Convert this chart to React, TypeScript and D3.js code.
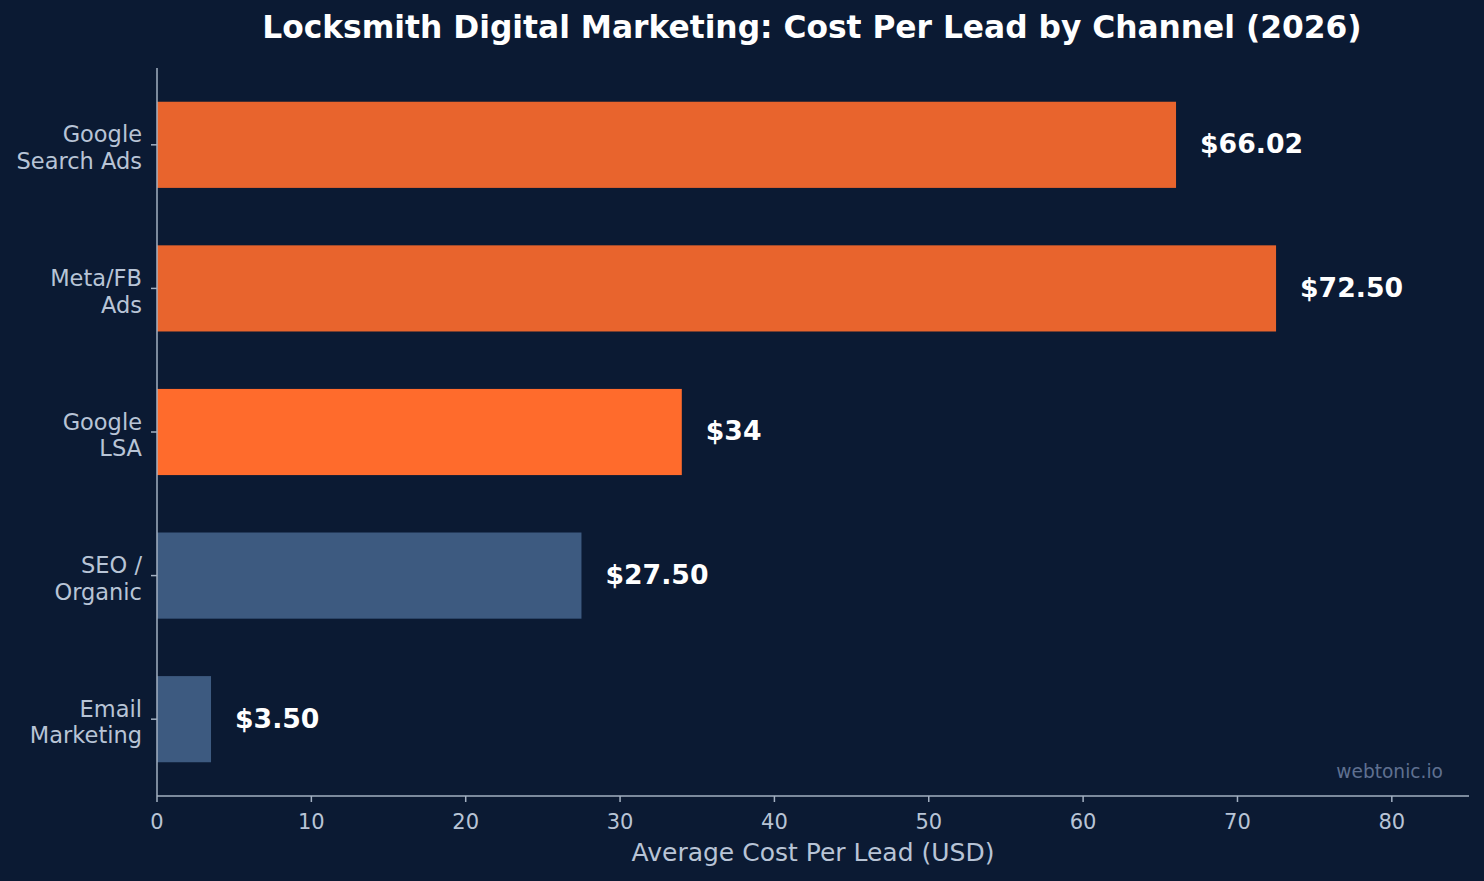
import React from "react";
import * as d3 from "d3";

const channels = ["Google\nSearch Ads", "Meta/FB\nAds", "Google\nLSA", "SEO /\nOrganic", "Email\nMarketing"];
const costs = [66.02, 72.5, 34, 27.5, 3.5];
const valueLabels = ["$66.02", "$72.50", "$34", "$27.50", "$3.50"];
const barColors = ["#e8642d", "#e8642d", "#ff6b2c", "#3d5a80", "#3d5a80"];
const xTicks = [0, 10, 20, 30, 40, 50, 60, 70, 80];

const W = 1484;
const H = 881;
const BG = "#0b1a33";
const AXIS = "#a3b0c2";
const TEXT = "#b8c4d6";
const FONT = "'DejaVu Sans', sans-serif";

const App: React.FC = () => {
  const left = 157;
  const right = 1469;
  const top = 68;
  const bottom = 796;

  const x = d3.scaleLinear().domain([0, 85]).range([left, right]);
  // bars sit at integer positions, matplotlib-ish margins
  const y = d3.scaleLinear().domain([-0.535, 4.535]).range([top, bottom]);
  const barH = y(0.6) - y(0);

  return (
    <svg width={W} height={H} style={{ position: "absolute", left: 0, top: 0, background: BG }}>
      <rect x={0} y={0} width={W} height={H} fill={BG} />
      <text x={812} y={38} textAnchor="middle" fill="#ffffff" fontFamily={FONT} fontWeight="bold" fontSize={31.3}>
        Locksmith Digital Marketing: Cost Per Lead by Channel (2026)
      </text>

      {costs.map((v, i) => (
        <g key={i}>
          <rect x={x(0)} y={y(i) - barH / 2} width={x(v) - x(0)} height={barH} fill={barColors[i]} />
          <text
            x={x(v) + 24}
            y={y(i) - 1}
            dy="0.35em"
            fill="#ffffff"
            fontFamily={FONT}
            fontWeight="bold"
            fontSize={26.7}
          >
            {valueLabels[i]}
          </text>
        </g>
      ))}

      {/* y axis */}
      <line x1={left} x2={left} y1={top} y2={bottom} stroke={AXIS} strokeWidth={1.5} />
      {channels.map((c, i) => {
        const lines = c.split("\n");
        return (
          <g key={c}>
            <line x1={left - 6} x2={left} y1={y(i)} y2={y(i)} stroke={AXIS} strokeWidth={1.5} />
            {lines.map((ln, j) => (
              <text
                key={j}
                x={left - 15}
                y={y(i) + 3 + (j - (lines.length - 1) / 2) * 26.5}
                dy="0.35em"
                textAnchor="end"
                fill={TEXT}
                fontFamily={FONT}
                fontSize={22.5}
              >
                {ln}
              </text>
            ))}
          </g>
        );
      })}

      {/* x axis */}
      <line x1={left} x2={right} y1={bottom} y2={bottom} stroke={AXIS} strokeWidth={1.5} />
      {xTicks.map((t) => (
        <g key={t}>
          <line x1={x(t)} x2={x(t)} y1={bottom} y2={bottom + 6} stroke={AXIS} strokeWidth={1.5} />
          <text x={x(t)} y={829} textAnchor="middle" fill={TEXT} fontFamily={FONT} fontSize={21}>
            {t}
          </text>
        </g>
      ))}
      <text x={813} y={861} textAnchor="middle" fill={TEXT} fontFamily={FONT} fontSize={25}>
        Average Cost Per Lead (USD)
      </text>

      <text x={1443} y={778} textAnchor="end" fill="#5f7090" fontFamily={FONT} fontSize={18.6}>
        webtonic.io
      </text>
    </svg>
  );
};

export default App;
